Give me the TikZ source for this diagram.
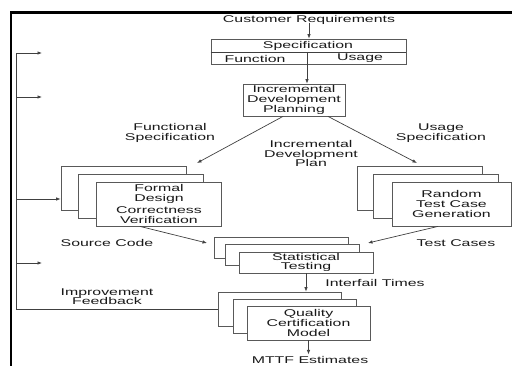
\documentclass[tikz,border=0pt]{standalone}
\usepackage{fontspec}
\setmainfont{Liberation Sans}[FakeStretch=1.62]
\usetikzlibrary{arrows.meta,calc}
\begin{document}
\begin{tikzpicture}[x=1pt,y=-1pt,
  every node/.style={font=\fontsize{9.8}{9.6}\selectfont, align=center, inner sep=0pt, text=black!90},
  box/.style={draw=black!65, fill=white, line width=0.8pt, minimum height=44pt, minimum width=125pt},
  sbox/.style={box, minimum width=134pt, minimum height=21pt},
  qbox/.style={box, minimum width=123pt, minimum height=34pt},
  conn/.style={draw=black!75, line width=0.7pt},
  arr/.style={conn, -{Latex[length=4.5pt,width=3.5pt]}},
  frame/.style={line width=2.5pt, draw=black}]
\useasboundingbox (0,0) rectangle (512,366);
% frame
\draw[frame] (11,367) -- (11,12.5) -- (513,12.5);
% top
\node[anchor=base] (cust) at (309,22.5) {Customer Requirements};
\node[box, minimum width=195pt, minimum height=25pt] (spec) at (308.5,51.5) {};
\coordinate (div) at (307,52);
\draw[conn] (spec.west |- div) -- (spec.east |- div);
\node (specT) at (308,45.5) {Specification};
\node (fun) at (255,58.5) {Function};
\node (use) at (360,58.5) {Usage};
\node[box, minimum width=102pt, minimum height=32pt] (plan) at (294,100) {Incremental\\Development\\Planning};
\draw[arr] ([yshift=2pt]cust.south) -- (cust.south |- spec.north);
\draw[arr] (div) -- (div |- plan.north);
% labels
\node (fspec) at (170,133) {Functional\\Specification};
\node (uspec) at (441,133) {Usage\\Specification};
\node (idp) at (311,153.5) {Incremental\\Development\\Plan};
\node (src) at (107,243) {Source Code};
\node (tc) at (456,243) {Test Cases};
\node (ift) at (375,283) {Interfail Times};
\node (impf) at (107,296.5) {Improvement\\Feedback};
\node[anchor=base] (mttf) at (310,364) {MTTF Estimates};
% left stack
\node[box] (L1) at (123.5,188.5) {};
\node[box] (L2) at (140.5,196.5) {};
\node[box] (L3) at (159,204) {Formal\\Design\\[3pt]Correctness\\Verification};
% right stack
\node[box] (R1) at (419.5,188.5) {};
\node[box] (R2) at (435.5,196.5) {};
\node[box, minimum width=119pt] (R3) at (451.5,204) {Random\\Test Case\\Generation};
% statistical testing stack
\node[sbox] (S1) at (281.5,247.5) {};
\node[sbox] (S2) at (292.5,254.5) {};
\node[sbox] (S3) at (306,262.5) {Statistical\\Testing};
% quality stack
\node[qbox] (Q1) at (280,309) {};
\node[qbox] (Q2) at (294.5,316) {};
\node[qbox] (Q3) at (308.5,323) {Quality\\Certification\\Model};
% diagonal arrows
\coordinate (fsend) at (197,163);
\coordinate (usend) at (417,163);
\coordinate (scend) at (207,243);
\coordinate (tcend) at (368,243);
\coordinate (mttfarr) at (308.5,354.5);
\draw[arr] ([xshift=-11pt]plan.south) -- (fsend);
\draw[arr] ([xshift=34pt]plan.south) -- (usend);
\draw[arr] ([xshift=-19pt]L3.south) -- (scend);
\draw[arr] ([xshift=-13.5pt]R3.south) -- (tcend);
\draw[arr] (S3.south) -- (S3.south |- Q1.north);
\draw[arr] (Q3.south) -- (mttfarr);
% feedback
\coordinate (fbtop) at (16,53);
\coordinate (fa1) at (42,53);
\coordinate (fb2) at (16,97);
\coordinate (fa2) at (42,97);
\coordinate (fb3) at (16,199);
\coordinate (fb4) at (16,263);
\coordinate (fa4) at (42,263);
\draw[conn] (Q1.west) -| (fbtop);
\draw[arr] (fbtop) -- (fa1);
\draw[arr] (fb2) -- (fa2);
\draw[arr] (fb3) -- (fb3 -| L1.west);
\draw[arr] (fb4) -- (fa4);
\end{tikzpicture}
\end{document}
